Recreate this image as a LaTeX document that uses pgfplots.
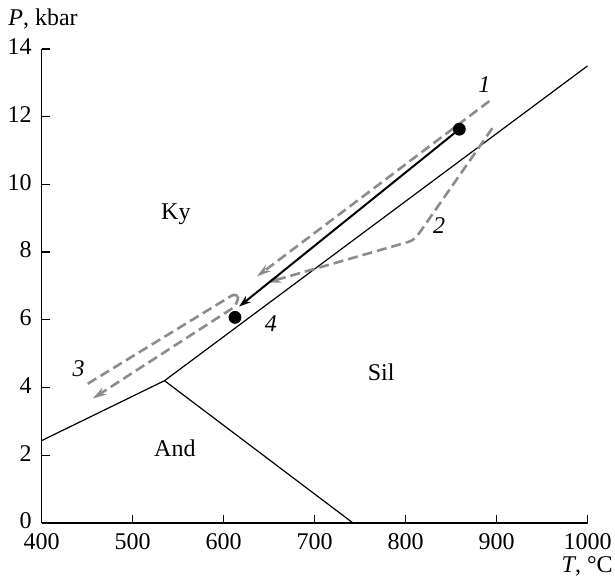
\documentclass[border=0pt]{standalone}
\usepackage{fontspec}
\setmainfont{Liberation Serif}
\usepackage{pgfplots}
\pgfplotsset{compat=1.18}
\usetikzlibrary{arrows.meta,calc}
\definecolor{dgray}{RGB}{140,140,140}
\begin{document}
\begin{tikzpicture}[font=\fontsize{12}{14.4}\selectfont]
\begin{axis}[
  scale only axis, width=273pt, height=237pt,
  xmin=400, xmax=1000, ymin=0, ymax=14,
  axis lines*=left,
  xtick={400,500,...,1000}, ytick={0,2,...,14},
  tick align=inside, major tick length=4pt,
  tick style={black, line width=0.6pt},
  axis line style={line width=0.7pt},
  /pgf/number format/assume math mode=true,
  /pgf/number format/1000 sep={},
  tick label style={font=\fontsize{12}{14.4}\selectfont},
  xticklabel style={inner sep=0pt, yshift=-5.3pt},
  yticklabel style={inner sep=0pt, xshift=-4.85pt, yshift=1pt},
  clip=false,
]
% phase boundaries
\addplot[black, line width=0.6pt] coordinates {(400,2.43) (535,4.2) (1000,13.5)};
\addplot[black, line width=0.6pt] coordinates {(535,4.2) (742,0)};
% dashed P-T paths
\addplot[dgray, line width=1.3pt, dash pattern=on 5pt off 2.5pt, -{Stealth[length=7pt,width=4pt]}]
  coordinates {(892.1,12.46) (636.7,7.28)};
\addplot[dgray, line width=1.3pt, dash pattern=on 5pt off 2.5pt, rounded corners=3pt, -{Stealth[length=7pt,width=4pt]}]
  coordinates {(895.4,11.66) (809.6,8.35) (647.7,7.10)};
\addplot[dgray, line width=1.3pt, dash pattern=on 5pt off 2.5pt, rounded corners=4pt, -{Stealth[length=7pt,width=4pt]}]
  coordinates {(450.6,4.11) (616,6.83) (616,6.45) (456.1,3.67)};
% black arrow and dots
\addplot[black, line width=1pt, -{Stealth[length=6pt,width=4pt]}]
  coordinates {(859.1,11.63) (617,6.39)};
\addplot[only marks, mark=*, mark size=3pt, black]
  coordinates {(859.1,11.63) (612.5,6.07)};
% labels
\node at (axis cs:547.5,9.11) {Ky};
\node at (axis cs:773.2,4.44) {Sil};
\node at (axis cs:546.4,2.19) {And};
\node at (axis cs:886.6,12.96) {\textit{1}};
\node at (axis cs:837,8.79) {\textit{2}};
\node at (axis cs:440.7,4.56) {\textit{3}};
\node at (axis cs:652,5.89) {\textit{4}};
\node[anchor=base west, inner sep=0pt] at ($(rel axis cs:0,1)+(-16.85pt,11.5pt)$) {\textit{P}, kbar};
\node[anchor=base east, inner sep=0pt] at ($(rel axis cs:1,0)+(12.75pt,-25pt)$) {\textit{T}, °C};
\coordinate (bl) at (rel axis cs:0,0);
\coordinate (tr) at (rel axis cs:1,1);
\end{axis}
\pgfresetboundingbox
\path ($(bl)+(-20.85pt,-30.5pt)$) rectangle ($(tr)+(13.75pt,24.5pt)$);
\end{tikzpicture}
\end{document}
